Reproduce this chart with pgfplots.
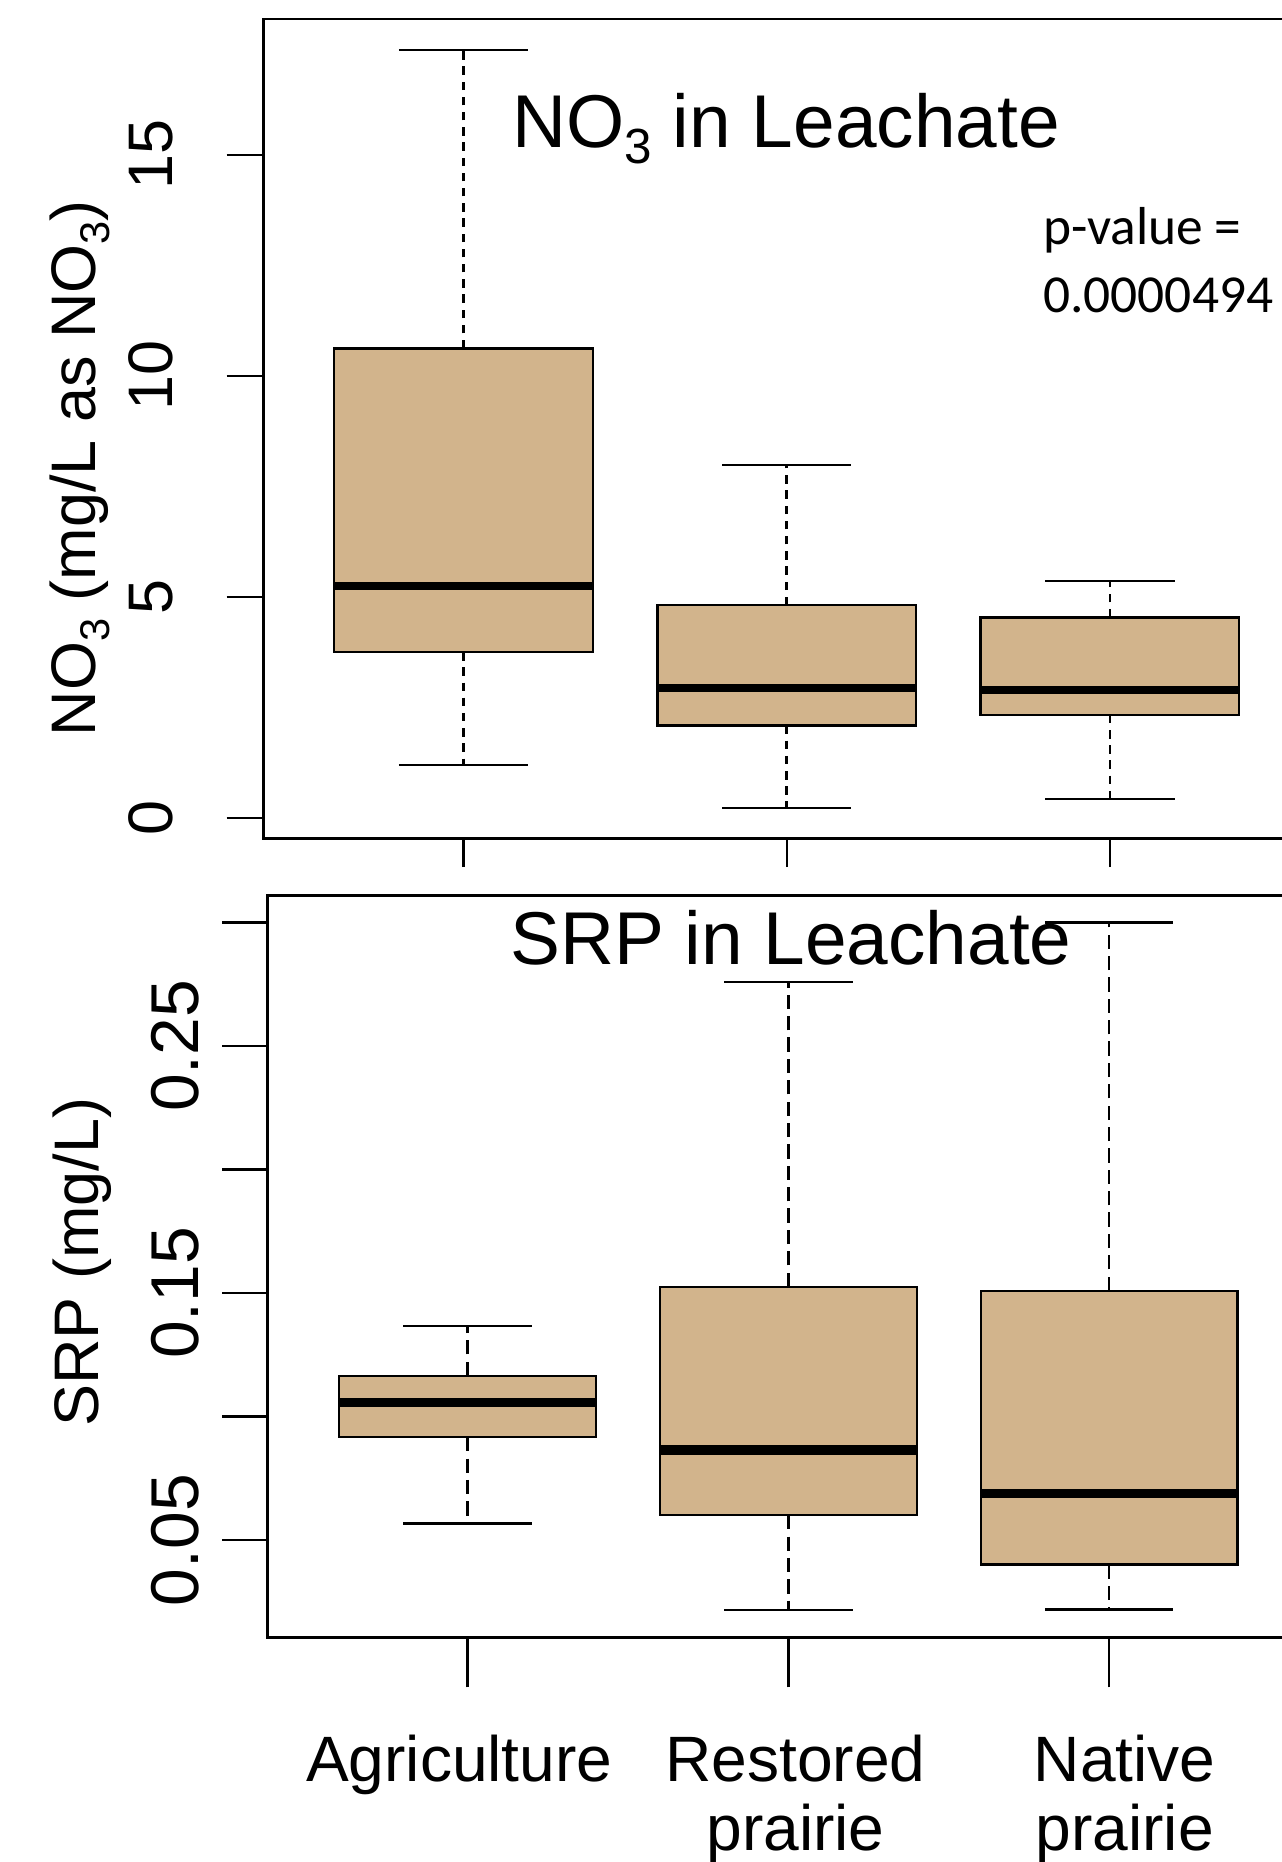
\documentclass[border=0pt]{standalone}
\usepackage{fontspec}
\setmainfont{Liberation Sans}
\newfontfamily\calibri{Carlito}
\usepackage{graphicx}
\usepackage{pgfplots}
\pgfplotsset{compat=1.18}
\usepgfplotslibrary{statistics}
\definecolor{tanR}{RGB}{210,180,140}

% lowered small digit, as in NO3
\newcommand\sub[1]{\raisebox{-0.22em}{\scalebox{0.66}{#1}}}

\pgfplotsset{
  rpanel/.style={
    scale only axis,
    axis line style={line width=1pt},
    tick style={black, line width=1pt},
    tick align=outside,
    xtick pos=bottom, ytick pos=left,
    xtick={1,2,3},
    every axis title shift=0pt,
    yticklabel style={rotate=90, anchor=south, inner sep=0pt},
    ylabel style={anchor=base, inner sep=0pt, font=\fontsize{26.5}{30}\selectfont},
    title style={anchor=base, inner sep=0pt, font=\fontsize{31.5}{36}\selectfont},
    boxplot/draw direction=y,
    boxplot/box extend=0.8,
    boxplot/whisker extend=0.4,
    boxplot/every box/.style={draw=black, fill=tanR, line width=1pt},
  },
  rwhisk/.style={
    boxplot/draw/lower whisker/.code={
      \draw[black, line width=1.05pt, dash pattern=#1]
        (boxplot box cs:\pgfplotsboxplotvalue{lower quartile},0.5) --
        (boxplot box cs:\pgfplotsboxplotvalue{lower whisker},0.5);
      \draw[black, line width=1pt]
        (boxplot whisker cs:\pgfplotsboxplotvalue{lower whisker},0) --
        (boxplot whisker cs:\pgfplotsboxplotvalue{lower whisker},1);
    },
    boxplot/draw/upper whisker/.code={
      \draw[black, line width=1.05pt, dash pattern=#1]
        (boxplot box cs:\pgfplotsboxplotvalue{upper quartile},0.5) --
        (boxplot box cs:\pgfplotsboxplotvalue{upper whisker},0.5);
      \draw[black, line width=1pt]
        (boxplot whisker cs:\pgfplotsboxplotvalue{upper whisker},0) --
        (boxplot whisker cs:\pgfplotsboxplotvalue{upper whisker},1);
    },
  },
}

\begin{document}
\begin{tikzpicture}
% the page is the visible (cropped) part of the figure
\useasboundingbox (0,0) rectangle (539.5pt,-784pt);

% ---- NO3 panel
\begin{axis}[rpanel,
  at={(110.9pt,-8.1pt)}, anchor=north west,
  width=440.7pt, height=345pt,
  xmin=0.381, xmax=3.619,
  ymin=-0.47, ymax=18.07,
  xticklabels={,,},
  major tick length=15.5pt,
  xtick style={/pgfplots/major tick length=12pt},
  ytick={0,5,10,15},
  yticklabels={0,5,10,15},
  yticklabel style={yshift=22.5pt, font=\fontsize{26.5}{30}\selectfont},
  ylabel={NO\sub{3} (mg/L as NO\sub{3})},
  ylabel style={at={(axis description cs:-0.160,0.452)}},
  title={NO\sub{3} in Leachate},
  title style={at={(axis description cs:0.4994,0.8435)}},
  rwhisk={on 3.6pt off 2.8pt},
  boxplot/every median/.style={draw=black, line width=3.5pt},
]
\addplot[black, boxplot prepared={draw position=1,
  lower whisker=1.20, lower quartile=3.75, median=5.24,
  upper quartile=10.62, upper whisker=17.38}] coordinates {};
\addplot[black, boxplot prepared={draw position=2,
  lower whisker=0.22, lower quartile=2.09, median=2.94,
  upper quartile=4.81, upper whisker=7.98}] coordinates {};
\addplot[black, boxplot prepared={draw position=3,
  lower whisker=0.43, lower quartile=2.33, median=2.89,
  upper quartile=4.53, upper whisker=5.36}] coordinates {};
\node[anchor=base west, inner sep=0pt, font=\calibri\fontsize{22.5}{27}\selectfont]
  at (rel axis cs:0.7445,0.7252) {p-value =};
\node[anchor=base west, inner sep=0pt, font=\calibri\fontsize{22.5}{27}\selectfont]
  at (rel axis cs:0.7445,0.6420) {0.0000494};
\end{axis}

% ---- SRP panel
\begin{axis}[rpanel,
  at={(112.6pt,-377pt)}, anchor=north west,
  width=438.7pt, height=312.5pt,
  xmin=0.376, xmax=3.624,
  ymin=0.0106, ymax=0.3109,
  major tick length=19pt,
  xtick style={/pgfplots/major tick length=21pt},
  xticklabels={\rule{0pt}{24pt}Agriculture\hspace*{7pt},
    \hspace*{6pt}\rule{0pt}{24pt}Restored\\\hspace*{6pt}prairie,
    \hspace*{13pt}\rule{0pt}{24pt}Native\\\hspace*{13pt}prairie},
  xticklabel style={align=center, anchor=north, inner sep=0pt, yshift=-17.5pt,
    font=\fontsize{27}{29}\selectfont},
  ytick={0.05,0.10,0.15,0.20,0.25,0.30},
  yticklabels={0.05,{},0.15,{},0.25,{}},
  yticklabel style={yshift=9.5pt, font=\fontsize{28.5}{32}\selectfont},
  ylabel={SRP (mg/L)},
  ylabel style={at={(axis description cs:-0.1623,0.5056)}},
  title={SRP in Leachate},
  title style={at={(axis description cs:0.5024,0.907)}},
  rwhisk={on 6pt off 3pt},
  boxplot/every median/.style={draw=black, line width=3.8pt},
]
\addplot[black, boxplot prepared={draw position=1,
  lower whisker=0.0567, lower quartile=0.0917, median=0.1057,
  upper quartile=0.1165, upper whisker=0.1367}] coordinates {};
\addplot[black, boxplot prepared={draw position=2,
  lower whisker=0.0218, lower quartile=0.0601, median=0.0865,
  upper quartile=0.1525, upper whisker=0.2759}] coordinates {};
\addplot[black, boxplot prepared={draw position=3,
  lower whisker=0.0220, lower quartile=0.0401, median=0.0689,
  upper quartile=0.1509, upper whisker=0.3000}] coordinates {};
\end{axis}
\end{tikzpicture}
\end{document}
